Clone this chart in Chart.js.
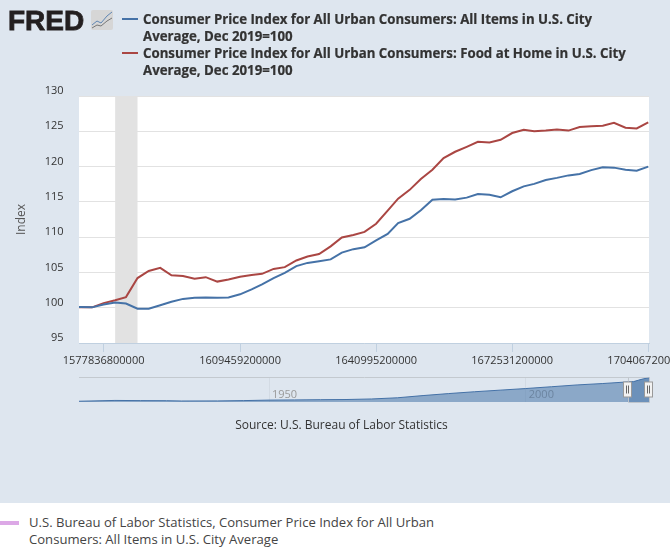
<!DOCTYPE html>
<html>
<head>
<meta charset="utf-8">
<title>FRED CPI</title>
<script src="https://cdn.jsdelivr.net/npm/chart.js@4"></script>
<style>
  html, body { margin: 0; padding: 0; background: #fff; }
  #page { position: relative; width: 670px; height: 552px; overflow: hidden; font-family: "Open Sans", sans-serif; color: #333; }
  #panel { position: absolute; left: 0; top: 0; width: 670px; height: 503px; background: #dee6ef; }
  canvas { position: absolute; left: 0; }
  #logo { position: absolute; left: 8px; top: 6px; }
  .key { position: absolute; left: 143px; width: 510px; font-weight: 700; font-size: 13.25px; line-height: 17px; color: #333; -webkit-text-stroke: 0.2px #333; }
  .swatch { position: absolute; left: 122px; width: 16px; height: 2px; }
  #source { position: absolute; left: 0; width: 683px; top: 417px; text-align: center; font-size: 12px; line-height: 16px; color: #333; }
  #bar { position: absolute; left: 0; top: 521px; width: 19px; height: 4px; background: #dca8e6; }
  #note { position: absolute; left: 29px; top: 514px; width: 430px; font-size: 13.1px; line-height: 17px; color: #444; }
</style>
</head>
<body>
<div id="page">
  <div id="panel"></div>
  <canvas id="main" width="670" height="372" style="top:0"></canvas>
  <canvas id="nav" width="670" height="36" style="top:370px"></canvas>
  <svg id="logo" width="110" height="30" viewBox="0 0 110 30">
    <text x="0" y="24" font-family="Liberation Sans" font-weight="700" font-size="28" fill="#231f20" stroke="#231f20" stroke-width="0.8">FRED</text>
    <rect x="83" y="4" width="22" height="20" rx="2" fill="#d6d6d6"/>
    <polyline points="84,19 89,15 93,17 99,10 104,6" fill="none" stroke="#5f86b3" stroke-width="1"/>
    <polyline points="84,22 89,19 93,20 99,15 104,12" fill="none" stroke="#777" stroke-width="1"/>
  </svg>
  <div class="swatch" style="top:18px;background:#4572a7"></div>
  <div class="key" style="top:11px">Consumer Price Index for All Urban Consumers: All Items in U.S. City<br>Average, Dec 2019=100</div>
  <div class="swatch" style="top:52px;background:#aa4643"></div>
  <div class="key" style="top:45px">Consumer Price Index for All Urban Consumers: Food at Home in U.S. City<br>Average, Dec 2019=100</div>
  <div id="source">Source: U.S. Bureau of Labor Statistics</div>
  <div id="bar"></div>
  <div id="note">U.S. Bureau of Labor Statistics, Consumer Price Index for All Urban<br>Consumers: All Items in U.S. City Average</div>
</div>
<script>
const months = [
  "2019-10", "2019-11", "2019-12",
  "2020-01", "2020-02", "2020-03", "2020-04", "2020-05", "2020-06", "2020-07", "2020-08", "2020-09", "2020-10", "2020-11", "2020-12",
  "2021-01", "2021-02", "2021-03", "2021-04", "2021-05", "2021-06", "2021-07", "2021-08", "2021-09", "2021-10", "2021-11", "2021-12",
  "2022-01", "2022-02", "2022-03", "2022-04", "2022-05", "2022-06", "2022-07", "2022-08", "2022-09", "2022-10", "2022-11", "2022-12",
  "2023-01", "2023-02", "2023-03", "2023-04", "2023-05", "2023-06", "2023-07", "2023-08", "2023-09", "2023-10", "2023-11", "2023-12",
  "2024-01"
];
const allItems = [
  100.0, 100.1, 100.05,
  100.45, 100.75, 100.6, 99.85, 99.85, 100.35, 100.85, 101.25, 101.4, 101.45, 101.4, 101.45,
  101.9, 102.6, 103.3, 104.2, 104.95, 105.9, 106.35, 106.6, 106.85, 107.8, 108.3, 108.57,
  109.55, 110.47, 112.0, 112.6, 113.8, 115.3, 115.4, 115.35, 115.6, 116.1, 116.0, 115.65,
  116.5, 117.2, 117.55, 118.1, 118.4, 118.75, 118.95, 119.5, 119.9, 119.85, 119.55, 119.4,
  120.0
];
const foodAtHome = [
  100.05, 100.05, 100.05,
  100.65, 101.07, 101.5, 104.2, 105.2, 105.65, 104.6, 104.5, 104.1, 104.33, 103.7, 104.0,
  104.4, 104.65, 104.8, 105.5, 105.75, 106.7, 107.25, 107.6, 108.7, 109.95, 110.3, 110.75,
  111.9, 113.76, 115.45, 116.7, 118.25, 119.55, 121.2, 122.1, 122.8, 123.5, 123.4, 123.8,
  124.75, 125.2, 125.0, 125.1, 125.25, 125.1, 125.6, 125.7, 125.8, 126.2, 125.5, 125.4,
  126.25
];
const xTickValues = [1577836800000, 1609459200000, 1640995200000, 1672531200000, 1704067200000];
const yTickValues = [95, 100, 105, 110, 115, 120, 125, 130];
const recession = ["2020-02", "2020-04"];

// navigator series, whole history of all items
const navYears = [1913, 1920, 1925, 1930, 1933, 1940, 1945, 1950, 1955, 1960, 1965, 1970, 1975, 1980, 1985, 1990, 1995, 2000, 2005, 2010, 2015, 2019.83, 2021, 2022, 2023, 2024];
const navValues = [3.8, 7.8, 6.9, 6.5, 5.0, 5.4, 7.0, 9.4, 10.4, 11.5, 12.3, 15.1, 21, 32, 42, 51, 59, 67, 76, 85, 92, 100, 101.5, 109, 116, 120];
const navTicks = [1950, 2000];
const navSelected = [2019.83, 2024];

const toMs = m => Date.parse(m + "-01T00:00:00Z");

// white plot background and grey recession band
const plotBack = {
  id: "plotBack",
  beforeDraw(chart) {
    const a = chart.chartArea;
    chart.ctx.fillStyle = "#fff";
    chart.ctx.fillRect(a.left, a.top, a.width, a.height);
  },
  beforeDatasetsDraw(chart) {
    const a = chart.chartArea, x = chart.scales.x;
    const x0 = x.getPixelForValue(toMs(recession[0]));
    const x1 = x.getPixelForValue(toMs(recession[1]));
    chart.ctx.fillStyle = "#e2e2e2";
    chart.ctx.fillRect(x0, a.top, x1 - x0, a.height);
  }
};

new Chart(document.getElementById("main"), {
  type: "line",
  data: {
    datasets: [
      { label: "All Items", data: months.map((m, i) => ({ x: toMs(m), y: allItems[i] })), borderColor: "#4572a7", borderWidth: 2, pointRadius: 0, tension: 0 },
      { label: "Food at Home", data: months.map((m, i) => ({ x: toMs(m), y: foodAtHome[i] })), borderColor: "#aa4643", borderWidth: 2, pointRadius: 0, tension: 0 }
    ]
  },
  options: {
    responsive: false,
    animation: false,
    layout: { padding: { top: 96, right: 21, left: 0, bottom: 0 } },
    plugins: { legend: { display: false }, tooltip: { enabled: false } },
    scales: {
      x: {
        type: "linear",
        min: Date.parse("2019-10-27T00:00:00Z"),
        max: Date.parse("2024-01-03T00:00:00Z"),
        border: { color: "#c0d0e0" },
        grid: { drawOnChartArea: false, color: "#c0d0e0", tickLength: 9, tickColor: "#c0d0e0" },
        ticks: { autoSkip: false, maxRotation: 0, padding: 2, color: "#333", font: { family: "Open Sans", size: 11 }, callback: v => String(v) },
        afterBuildTicks: s => { s.ticks = xTickValues.map(v => ({ value: v })); },
        afterFit: s => { s.height = 29; s.paddingLeft = 0; s.paddingRight = 0; }
      },
      y: {
        min: 95,
        max: 130,
        border: { display: false },
        grid: { color: "#e2e2e2", drawTicks: false },
        title: { display: true, text: "Index", color: "#555", font: { family: "Open Sans", size: 12 }, padding: { top: 14, bottom: 0 } },
        ticks: { padding: 15.5, labelOffset: -5, color: "#333", font: { family: "Open Sans", size: 11 } },
        afterBuildTicks: s => { s.ticks = yTickValues.map(v => ({ value: v })); },
        afterFit: s => { s.width = 79; s.paddingTop = 0; s.paddingBottom = 0; }
      }
    }
  },
  plugins: [plotBack]
});

// selected window frame and the two drag handles
const navFrame = {
  id: "navFrame",
  afterDraw(chart) {
    const ctx = chart.ctx, a = chart.chartArea, x = chart.scales.x;
    const x0 = Math.round(x.getPixelForValue(navSelected[0]));
    const x1 = Math.round(x.getPixelForValue(navSelected[1]));
    ctx.strokeStyle = "#bfc5cc";
    ctx.lineWidth = 1;
    ctx.beginPath();
    ctx.moveTo(x0 + 0.5, a.top);
    ctx.lineTo(x0 + 0.5, a.bottom + 0.5);
    ctx.lineTo(x1 + 0.5, a.bottom + 0.5);
    ctx.lineTo(x1 + 0.5, a.top);
    ctx.stroke();
    [x0, x1].forEach(h => {
      ctx.fillStyle = "#f2f2f2";
      ctx.strokeStyle = "#999";
      ctx.fillRect(h - 4.5, a.top + 4.5, 8, 15);
      ctx.strokeRect(h - 4.5, a.top + 4.5, 8, 15);
      ctx.strokeStyle = "#666";
      ctx.beginPath();
      ctx.moveTo(h - 1.5, a.top + 8);
      ctx.lineTo(h - 1.5, a.top + 16);
      ctx.moveTo(h + 0.5, a.top + 8);
      ctx.lineTo(h + 0.5, a.top + 16);
      ctx.stroke();
    });
  }
};

const navPoints = navYears.map((yr, i) => ({ x: yr, y: navValues[i] }));

new Chart(document.getElementById("nav"), {
  type: "line",
  data: {
    datasets: [
      { data: navPoints, borderColor: "#4572a7", borderWidth: 1, backgroundColor: "rgba(69,114,167,0.54)", fill: "origin", pointRadius: 0, tension: 0 },
      { data: navPoints.filter(p => p.x >= navSelected[0]), borderWidth: 0, backgroundColor: "rgba(69,114,167,0.43)", fill: "origin", pointRadius: 0, tension: 0 }
    ]
  },
  options: {
    responsive: false,
    animation: false,
    layout: { padding: { top: 7.5, right: 21, left: 79, bottom: 4 } },
    plugins: { legend: { display: false }, tooltip: { enabled: false } },
    scales: {
      x: {
        type: "linear",
        position: "top",
        min: 1913,
        max: 2024,
        border: { color: "#c3c9cf" },
        grid: { color: "rgba(120,130,140,0.10)", drawTicks: false },
        // mirror keeps the labels inside the plot, the scale clips them otherwise
        ticks: { autoSkip: false, maxRotation: 0, mirror: true, align: "start", labelOffset: 3, padding: 11, color: "#999", font: { family: "Open Sans", size: 11 }, callback: v => String(v) },
        afterBuildTicks: s => { s.ticks = navTicks.map(v => ({ value: v })); },
        afterFit: s => { s.height = 0; s.paddingLeft = 0; s.paddingRight = 0; }
      },
      y: { display: false, min: 0, max: 122 }
    }
  },
  plugins: [navFrame]
});
</script>
</body>
</html>
